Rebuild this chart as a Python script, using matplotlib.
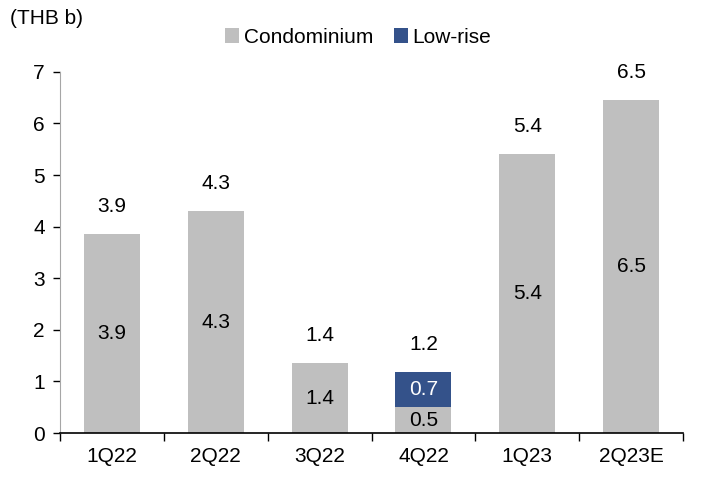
import matplotlib
matplotlib.use("Agg")
import matplotlib.pyplot as plt
import numpy as np

categories = ["1Q22", "2Q22", "3Q22", "4Q22", "1Q23", "2Q23E"]
condominium = [3.85, 4.3, 1.35, 0.5, 5.4, 6.45]
low_rise = [0.0, 0.0, 0.0, 0.68, 0.0, 0.0]
condo_labels = ["3.9", "4.3", "1.4", "0.5", "5.4", "6.5"]
low_rise_labels = ["", "", "", "0.7", "", ""]
total_labels = ["3.9", "4.3", "1.4", "1.2", "5.4", "6.5"]

plt.rcParams['font.family'] = ["Liberation Sans", 'DejaVu Sans']
FS = 15

condo_color = "#BFBFBF"
low_color = "#34528A"

fig = plt.figure(figsize=(7.02, 4.79), dpi=100)
ax = fig.add_axes([0.0855, 0.096, 0.973 - 0.0855, 0.85 - 0.096])

x = np.arange(len(categories))
w = 0.54
c = np.array(condominium)
l = np.array(low_rise)
ax.bar(x, c, w, color=condo_color, label="Condominium", zorder=2)
ax.bar(x, l, w, bottom=c, color=low_color, label="Low-rise", zorder=2)

for i in range(len(categories)):
    ax.text(x[i], c[i] / 2, condo_labels[i], ha="center", va="center", fontsize=FS, color="black", zorder=3)
    if l[i] > 0:
        ax.text(x[i], c[i] + l[i] / 2, low_rise_labels[i], ha="center", va="center", fontsize=FS, color="white", zorder=3)
    ax.annotate(total_labels[i], (x[i], c[i] + l[i]), xytext=(0, 20), textcoords="offset points",
                ha="center", va="center", fontsize=FS, color="black")

ax.set_xlim(-0.5, len(categories) - 0.5)
ax.set_ylim(0, 7)
ax.set_yticks(range(0, 8))
ax.set_xticks(x)
ax.set_xticklabels(categories)
ax.set_xticks(np.arange(-0.5, len(categories)), minor=True)
ax.tick_params(axis="x", which="major", length=0, labelsize=FS, pad=10)
ax.tick_params(axis="x", which="minor", length=6, width=1, direction="out", color="black")
ax.tick_params(axis="y", which="major", length=5, width=1, direction="out", labelsize=FS, pad=6, color="black")
for s in ["top", "right"]:
    ax.spines[s].set_visible(False)
ax.spines["left"].set_color("#A6A6A6")
ax.spines["bottom"].set_color("black")
ax.spines["bottom"].set_linewidth(1.2)

fig.text(0.014, 0.962, "(THB b)", fontsize=FS, ha="left", va="center")
fig.legend(loc="center", bbox_to_anchor=(0.51, 0.922), ncol=2, frameon=False, fontsize=FS,
           handlelength=0.7, handleheight=0.7, handletextpad=0.2, columnspacing=1.0)

fig.savefig("out.png", dpi=100)
